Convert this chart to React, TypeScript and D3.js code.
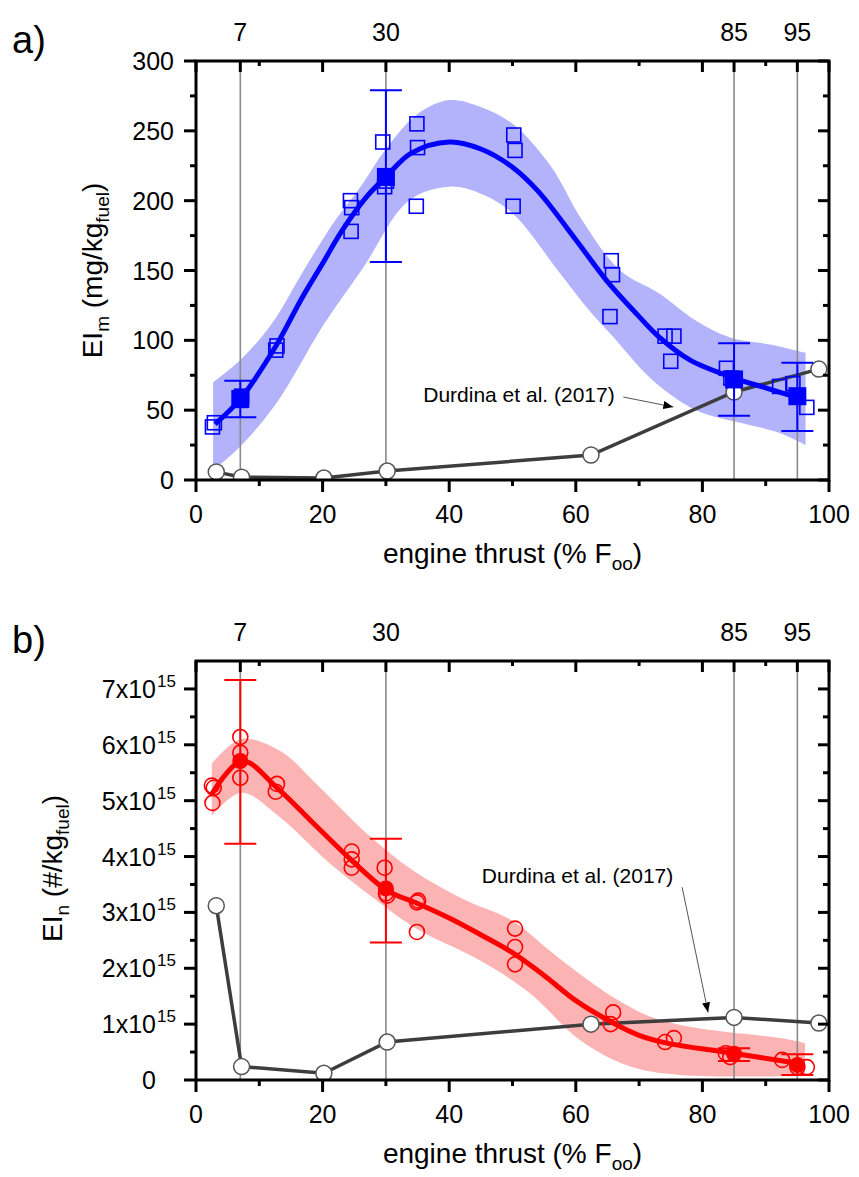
import * as d3 from "d3";

const W = 859;
const H = 1177;
const FONT = "'Liberation Sans', Arial, sans-serif";

// shared thrust axis
const thrustTicks = [0, 20, 40, 60, 80, 100];
const thrustMinor = [10, 30, 50, 70, 90];
const certPoints = [7, 30, 85, 95];

// Durdina et al. (2017) reference
const durX = [3.2, 7.2, 20.2, 30.2, 62.4, 85, 98.4];
const durMass = [5.8, 2, 1.4, 6.4, 17.9, 63, 79.4];
const durNum = [3.12, 0.24, 0.12, 0.68, 1.0, 1.12, 1.02];

// a) mass EI (mg/kg fuel)
const massTicks = [0, 50, 100, 150, 200, 250, 300];
const massMinor = [25, 75, 125, 175, 225, 275];
const massX = [2.6, 2.9, 7, 7.2, 12.6, 12.8, 24.4, 24.6, 24.5, 29.5, 29.8, 30.1, 34.9, 35.0, 34.8, 50.2, 50.4, 50.1, 65.6, 65.8, 65.4, 74.1, 75.5, 75.0, 83.8, 84.5, 92.2, 94.3, 96.5];
const massY = [38, 41, 57, 60, 93, 96, 200, 195, 178, 242, 210, 214, 255, 238, 196, 247, 236, 196, 157, 147, 117, 103, 103, 85, 80, 73, 67, 69, 52];
const massMean = [58, 217, 72, 60];
const massLo = [45, 156, 46, 35];
const massHi = [71, 279, 98, 84];
const massFitX = [3, 7, 12.5, 16.7, 20, 23, 27, 30, 34, 40, 45, 50, 54, 60, 65, 70, 73, 78, 85, 90, 95];
const massFitY = [40, 58, 95, 130, 155, 178, 203, 217, 234, 242, 237, 224, 207, 172, 142, 117, 103, 86, 73, 66, 59];
const massUpX = [2.7, 7, 12, 17, 22, 26, 30, 35, 40, 45, 50, 56, 61, 67, 73, 79, 84.4, 90.7, 96.3];
const massUpY = [70, 86, 112, 150, 186, 210, 237, 262, 272, 267, 255, 225, 186, 150, 134, 114, 102, 97, 91];
const massLoX = [2.7, 7, 13, 20, 26.4, 33.6, 40, 45, 50, 57.5, 62, 66, 72, 79, 86, 92, 96.3];
const massLoY = [7, 24, 57, 110, 152, 200, 210, 205, 191, 148, 122, 102, 72, 50, 41, 34, 25];

// b) number EI (x10^15 #/kg fuel)
const numTicks = [0, 1, 2, 3, 4, 5, 6, 7];
const numMinor = [0.5, 1.5, 2.5, 3.5, 4.5, 5.5, 6.5];
const numX = [2.5, 2.8, 2.6, 7, 7, 7, 12.8, 12.6, 24.6, 24.6, 24.6, 29.8, 30, 30.2, 34.9, 35.1, 34.9, 50.4, 50.4, 50.4, 65.9, 65.5, 74.1, 75.5, 83.7, 84.4, 92.6, 95, 96.5];
const numY = [5.27, 5.23, 4.96, 6.14, 5.86, 5.41, 5.3, 5.16, 4.09, 3.95, 3.8, 3.8, 3.34, 3.3, 3.18, 3.21, 2.65, 2.71, 2.38, 2.07, 1.21, 1.0, 0.68, 0.75, 0.48, 0.41, 0.36, 0.23, 0.23];
const numMean = [5.71, 3.43, 0.47, 0.27];
const numLo = [4.23, 2.46, 0.34, 0.09];
const numHi = [7.16, 4.32, 0.57, 0.46];
const numFitX = [2.5, 7.3, 12.8, 18.5, 24.6, 30.2, 35, 40, 45, 50, 55, 60, 65.9, 70, 74.4, 84.8, 95];
const numFitY = [5.12, 5.71, 5.23, 4.6, 3.93, 3.39, 3.16, 2.9, 2.6, 2.28, 1.87, 1.42, 1.02, 0.8, 0.66, 0.48, 0.3];
const numUpX = [2.5, 7.1, 13.3, 19.6, 27, 34.3, 42, 50, 55.5, 60, 65.9, 71.2, 76, 81.7, 92.3, 96.2];
const numUpY = [5.66, 6.1, 5.89, 5.23, 4.41, 3.75, 3.25, 2.85, 2.35, 1.95, 1.48, 1.16, 1.0, 0.89, 0.75, 0.66];
const numLoX = [2.5, 7.2, 13.3, 21.2, 28.6, 35, 44.9, 52.8, 60.7, 68.6, 76.5, 96.2];
const numLoY = [4.73, 5.14, 4.7, 3.87, 3.21, 2.7, 2.14, 1.55, 0.71, 0.24, 0.09, 0.07];

const PL = 196;
const PR = 829;
const PH = 419;

type PanelProps = {
  id: string;
  top: number;
  letter: string;
  yMax: number;
  yTicks: number[];
  yMinor: number[];
  kind: "mass" | "num";
  color: string;
  bandColor: string;
  sx: number[];
  sy: number[];
  mean: number[];
  lo: number[];
  hi: number[];
  fitX: number[];
  fitY: number[];
  upX: number[];
  upY: number[];
  loX: number[];
  loY: number[];
  dur: number[];
  note: { tx: number; ty: number; anchor: string; ax1: number; ay1: number; ax2: number; ay2: number };
};

function Panel(p: PanelProps) {
  const x = d3.scaleLinear().domain([0, 100]).range([PL, PR]);
  const y = d3.scaleLinear().domain([0, p.yMax]).range([p.top + PH, p.top]);
  const bottom = p.top + PH;
  const curve = d3.line<[number, number]>().x((d) => x(d[0])).y((d) => y(d[1])).curve(d3.curveCatmullRom.alpha(0.5));
  const straight = d3.line<[number, number]>().x((d) => x(d[0])).y((d) => y(d[1]));

  const fit = p.fitX.map((v, i) => [v, p.fitY[i]] as [number, number]);
  const up = p.upX.map((v, i) => [v, p.upY[i]] as [number, number]);
  const low = p.loX.map((v, i) => [v, p.loY[i]] as [number, number]).reverse();
  const bandPath = `${curve(up)}L${(curve(low) || "").slice(1)}Z`;
  const durPts = durX.map((v, i) => [v, p.dur[i]] as [number, number]);

  const tickFont = 25;
  const topMajor = [...thrustTicks, ...certPoints];

  return (
    <g>
      <defs>
        <clipPath id={`clip-${p.id}`}>
          <rect x={PL} y={p.top} width={PR - PL} height={PH} />
        </clipPath>
        <marker id={`arr-${p.id}`} viewBox="0 0 10 10" refX="10" refY="5" markerWidth="10" markerHeight="10" markerUnits="userSpaceOnUse" orient="auto">
          <path d="M0,1 L10,5 L0,9 Z" fill="#000" />
        </marker>
      </defs>

      <g clipPath={`url(#clip-${p.id})`}>
        <path d={bandPath} fill={p.bandColor} />
        {certPoints.map((c) => (
          <line key={c} x1={x(c)} x2={x(c)} y1={p.top} y2={bottom} stroke="#8a8a8a" strokeWidth={1.6} />
        ))}
        <path d={straight(durPts) || ""} fill="none" stroke="#3d3d3d" strokeWidth={3.5} />
        {durPts.map((d, i) => (
          <circle key={i} cx={x(d[0])} cy={y(d[1])} r={8} fill="#fff" stroke="#555" strokeWidth={1.5} />
        ))}
        {p.sx.map((v, i) =>
          p.kind === "mass" ? (
            <rect key={i} x={x(v) - 7} y={y(p.sy[i]) - 7} width={14} height={14} fill="none" stroke={p.color} strokeWidth={1.6} />
          ) : (
            <circle key={i} cx={x(v)} cy={y(p.sy[i])} r={7.5} fill="none" stroke={p.color} strokeWidth={1.6} />
          )
        )}
        <path d={curve(fit) || ""} fill="none" stroke={p.color} strokeWidth={5} />
        {certPoints.map((c, i) => (
          <g key={c} stroke={p.color} strokeWidth={2}>
            <line x1={x(c)} x2={x(c)} y1={y(p.lo[i])} y2={y(p.hi[i])} />
            <line x1={x(c) - 16} x2={x(c) + 16} y1={y(p.lo[i])} y2={y(p.lo[i])} />
            <line x1={x(c) - 16} x2={x(c) + 16} y1={y(p.hi[i])} y2={y(p.hi[i])} />
          </g>
        ))}
        {certPoints.map((c, i) =>
          p.kind === "mass" ? (
            <rect key={c} x={x(c) - 9} y={y(p.mean[i]) - 9} width={18} height={18} fill={p.color} />
          ) : (
            <circle key={c} cx={x(c)} cy={y(p.mean[i])} r={8} fill={p.color} />
          )
        )}
      </g>

      <text x={x(p.note.tx)} y={y(p.note.ty)} textAnchor={p.note.anchor} fontSize={21} fontFamily={FONT}>
        Durdina et al. (2017)
      </text>
      <line x1={x(p.note.ax1)} y1={y(p.note.ay1)} x2={x(p.note.ax2)} y2={y(p.note.ay2)} stroke="#555" strokeWidth={1} markerEnd={`url(#arr-${p.id})`} />

      {/* frame */}
      <rect x={PL} y={p.top} width={PR - PL} height={PH} fill="none" stroke="#000" strokeWidth={3} />

      {/* bottom axis, outward ticks */}
      {thrustTicks.map((t) => (
        <g key={t}>
          <line x1={x(t)} x2={x(t)} y1={bottom} y2={bottom + 12} stroke="#000" strokeWidth={3} />
          <text x={x(t)} y={bottom + 43} textAnchor="middle" fontSize={tickFont} fontFamily={FONT}>{t}</text>
        </g>
      ))}
      {thrustMinor.map((t) => (
        <line key={t} x1={x(t)} x2={x(t)} y1={bottom} y2={bottom + 6} stroke="#000" strokeWidth={3} />
      ))}
      {/* top axis, inward ticks */}
      {topMajor.map((t) => (
        <line key={t} x1={x(t)} x2={x(t)} y1={p.top} y2={p.top + 11} stroke="#000" strokeWidth={3} />
      ))}
      {thrustMinor.filter((t) => t !== 30).map((t) => (
        <line key={t} x1={x(t)} x2={x(t)} y1={p.top} y2={p.top + 5} stroke="#000" strokeWidth={3} />
      ))}
      {certPoints.map((c) => (
        <text key={c} x={x(c)} y={p.top - 20} textAnchor="middle" fontSize={tickFont} fontFamily={FONT}>{c}</text>
      ))}

      {/* left / right axes */}
      {p.yTicks.map((t) => (
        <g key={t}>
          <line x1={PL - 12} x2={PL} y1={y(t)} y2={y(t)} stroke="#000" strokeWidth={3} />
          <line x1={PR - 11} x2={PR} y1={y(t)} y2={y(t)} stroke="#000" strokeWidth={3} />
          <text x={p.kind === "mass" ? 174 : 156} y={y(t) + 9} textAnchor="end" fontSize={tickFont} fontFamily={FONT}>
            {p.kind === "mass" || t === 0 ? t : `${t}x10`}
          </text>
          {p.kind === "num" && t !== 0 ? (
            <text x={157} y={y(t) - 2} fontSize={17} fontFamily={FONT}>15</text>
          ) : null}
        </g>
      ))}
      {p.yMinor.map((t) => (
        <g key={t}>
          <line x1={PL - 6} x2={PL} y1={y(t)} y2={y(t)} stroke="#000" strokeWidth={3} />
          <line x1={PR - 6} x2={PR} y1={y(t)} y2={y(t)} stroke="#000" strokeWidth={3} />
        </g>
      ))}

      {/* axis titles */}
      <text x={(PL + PR) / 2} y={bottom + 83} textAnchor="middle" fontSize={28} fontFamily={FONT}>
        engine thrust (% F<tspan fontSize={19} dy={7}>oo</tspan><tspan dy={-7}>)</tspan>
      </text>
      <text
        transform={`translate(${p.kind === "mass" ? 102 : 62},${p.top + PH / 2 + (p.kind === "mass" ? 0 : -2)}) rotate(-90)`}
        textAnchor="middle"
        fontSize={28}
        fontFamily={FONT}
      >
        EI<tspan fontSize={19} dy={7}>{p.kind === "mass" ? "m" : "n"}</tspan>
        <tspan dy={-7}>{p.kind === "mass" ? " (mg/kg" : " (#/kg"}</tspan>
        <tspan fontSize={19} dy={7}>fuel</tspan>
        <tspan dy={-7}>)</tspan>
      </text>
      <text x={12} y={p.top - 8} fontSize={38} fontFamily={FONT}>{p.letter}</text>
    </g>
  );
}

export default function App() {
  return (
    <svg width={W} height={H} style={{ position: "absolute", left: 0, top: 0, background: "#fff" }}>
      <rect width={W} height={H} fill="#fff" />
      <Panel
        id="a"
        top={61}
        letter="a)"
        yMax={300}
        yTicks={massTicks}
        yMinor={massMinor}
        kind="mass"
        color="#0000ff"
        bandColor="#b3b3fb"
        sx={massX}
        sy={massY}
        mean={massMean}
        lo={massLo}
        hi={massHi}
        fitX={massFitX}
        fitY={massFitY}
        upX={massUpX}
        upY={massUpY}
        loX={massLoX}
        loY={massLoY}
        dur={durMass}
        note={{ tx: 35.9, ty: 55.8, anchor: "start", ax1: 67.5, ay1: 59.4, ax2: 75.4, ay2: 52.3 }}
      />
      <Panel
        id="b"
        top={661}
        letter="b)"
        yMax={7.5}
        yTicks={numTicks}
        yMinor={numMinor}
        kind="num"
        color="#ff0000"
        bandColor="#fbb3b3"
        sx={numX}
        sy={numY}
        mean={numMean}
        lo={numLo}
        hi={numHi}
        fitX={numFitX}
        fitY={numFitY}
        upX={numUpX}
        upY={numUpY}
        loX={numLoX}
        loY={numLoY}
        dur={durNum}
        note={{ tx: 75.4, ty: 3.52, anchor: "end", ax1: 76.8, ay1: 3.45, ax2: 80.9, ay2: 1.21 }}
      />
    </svg>
  );
}
